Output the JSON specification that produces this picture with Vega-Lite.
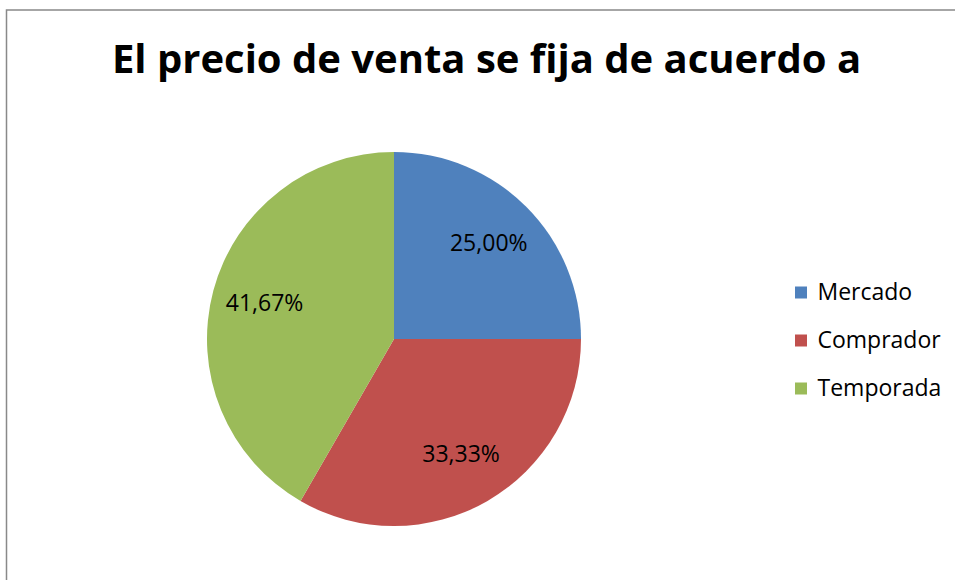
{
  "$schema": "https://vega.github.io/schema/vega-lite/v6.json",
  "autosize": "none",
  "padding": {"left": 6.5, "top": 10, "right": 0, "bottom": 0},
  "width": 960,
  "height": 580,
  "background": "white",
  "view": {"stroke": "#898989", "strokeWidth": 1.5},
  "config": {
    "view": {"stroke": "#898989", "strokeWidth": 1.5},
    "font": "Open Sans"
  },
  "title": {
    "text": "El precio de venta se fija de acuerdo a",
    "orient": "top",
    "anchor": "middle",
    "offset": -71,
    "fontSize": 40,
    "fontWeight": "bold",
    "font": "Open Sans",
    "color": "black"
  },
  "data": {
    "values": [
      {"categoria": "Mercado", "porcentaje": 25.0, "etiqueta": "25,00%", "i": 1},
      {"categoria": "Comprador", "porcentaje": 33.33, "etiqueta": "33,33%", "i": 2},
      {"categoria": "Temporada", "porcentaje": 41.67, "etiqueta": "41,67%", "i": 3}
    ]
  },
  "encoding": {
    "theta": {"field": "porcentaje", "type": "quantitative", "stack": true},
    "order": {"field": "i", "type": "quantitative"}
  },
  "layer": [
    {
      "mark": {"type": "arc", "outerRadius": 187, "x": 387.5, "y": 329},
      "encoding": {
        "color": {
          "field": "categoria",
          "type": "nominal",
          "sort": ["Mercado", "Comprador", "Temporada"],
          "scale": {"domain": ["Mercado", "Comprador", "Temporada"], "range": ["#4f81bd", "#c0504d", "#9bbb59"]},
          "legend": {
            "title": null,
            "orient": "none",
            "legendX": 783,
            "legendY": 271,
            "symbolType": "square",
            "symbolSize": 144,
            "symbolStrokeWidth": 0,
            "labelFontSize": 23,
            "labelFont": "Open Sans",
            "labelColor": "black",
            "rowPadding": 24,
            "labelOffset": 5
          }
        }
      }
    },
    {
      "mark": {"type": "text", "radius": 134, "x": 387.5, "y": 329, "fontSize": 23, "font": "Open Sans", "color": "black"},
      "encoding": {"text": {"field": "etiqueta"}}
    }
  ]
}
